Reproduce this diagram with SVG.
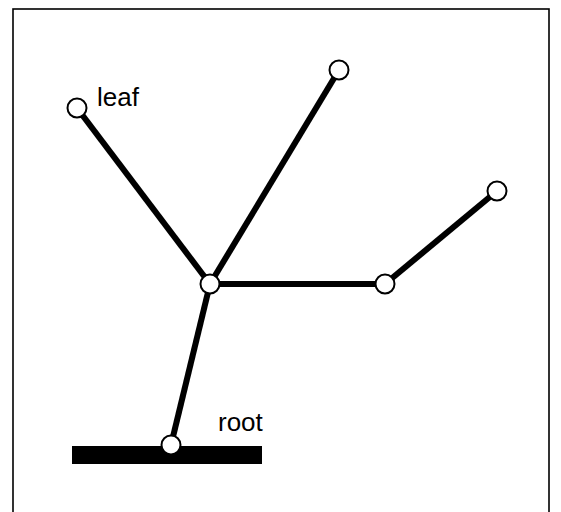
<svg xmlns="http://www.w3.org/2000/svg" width="561" height="512" viewBox="0 0 561 512">
  <style>
    .edge { stroke: #000; stroke-width: 6; fill: none; stroke-linecap: butt; }
    .node { fill: #fff; stroke: #000; stroke-width: 2; }
    .label { font-family: "Liberation Sans", Arial, sans-serif; font-size: 26px; fill: #000; }
  </style>
  <rect width="561" height="512" fill="#fff"/>
  <!-- frame -->
  <rect x="13" y="9" width="536" height="520" fill="none" stroke="#000" stroke-width="1.6"/>
  <!-- ground bar -->
  <rect id="ground" x="72" y="446" width="190" height="18" fill="#000"/>
  <g id="connectors">
    <line class="edge" x1="171" y1="445" x2="210" y2="284"/>
    <line class="edge" x1="210" y1="284" x2="77" y2="108"/>
    <line class="edge" x1="210" y1="284" x2="339" y2="70"/>
    <line class="edge" x1="210" y1="284" x2="385" y2="284"/>
    <line class="edge" x1="385" y1="284" x2="497" y2="191"/>
  </g>
  <g id="root">
    <circle class="node" cx="171" cy="445" r="9.5"/>
    <text class="label" x="218" y="431">root</text>
  </g>
  <g id="hub">
    <circle class="node" cx="210" cy="284" r="9.5"/>
  </g>
  <g id="leaf">
    <circle class="node" cx="77" cy="108" r="9.5"/>
    <text class="label" x="97" y="106">leaf</text>
  </g>
  <g id="top-tip">
    <circle class="node" cx="339" cy="70" r="9.5"/>
  </g>
  <g id="mid-node">
    <circle class="node" cx="385" cy="284" r="9.5"/>
  </g>
  <g id="right-tip">
    <circle class="node" cx="497" cy="191" r="9.5"/>
  </g>
</svg>
